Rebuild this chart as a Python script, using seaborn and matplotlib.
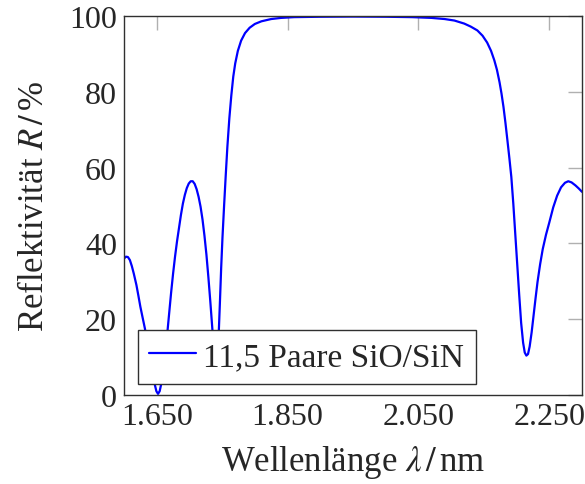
import matplotlib
matplotlib.use("Agg")
import matplotlib.pyplot as plt
import matplotlib.ticker as mticker
import seaborn as sns
import pandas as pd

wavelength_nm = [1600, 1603, 1606, 1609, 1612, 1615, 1619, 1622, 1625, 1628,
                 1632, 1635, 1638, 1641, 1644, 1647, 1649.5, 1652, 1654.5, 1657,
                 1660, 1663, 1666, 1669, 1672, 1675, 1678, 1681, 1684, 1687,
                 1690, 1693, 1696, 1699, 1702, 1705, 1708, 1711, 1714, 1717,
                 1720, 1723, 1726, 1729, 1732, 1735, 1737, 1739, 1740.8, 1742.5,
                 1744.5, 1746.5, 1748.5, 1750.5, 1753, 1755.5, 1758, 1761, 1764, 1767,
                 1770, 1774, 1779, 1785, 1792, 1800, 1810, 1825, 1840, 1860,
                 1900, 1950, 2000, 2040, 2070, 2090, 2105, 2120, 2130, 2140,
                 2148, 2155, 2161, 2166, 2170, 2174, 2177, 2180, 2183, 2186,
                 2189, 2192, 2195, 2198, 2201, 2204, 2207, 2210, 2212.5, 2215,
                 2217.5, 2220, 2223, 2226, 2229, 2232, 2236, 2240, 2245, 2250,
                 2256, 2262, 2268, 2274, 2279, 2284, 2290, 2295, 2300]
reflectivity = [36.0, 36.5, 36.4, 35.6, 34.0, 32.0, 29.0, 26.2, 23.3, 20.8,
                17.5, 14.5, 11.5, 8.5, 5.5, 2.8, 1.0, 0.3, 1.0, 3.0,
                6.5, 11.0, 16.0, 21.5, 27.0, 32.0, 36.5, 40.5, 44.0, 47.5,
                50.5, 52.8, 54.6, 55.8, 56.4, 56.4, 55.7, 54.3, 52.3, 49.7,
                46.3, 42.0, 37.0, 31.0, 24.5, 17.5, 12.5, 8.0, 6.0, 8.5,
                15.0, 24.0, 33.5, 41.5, 50.0, 58.0, 65.5, 73.0, 79.0, 84.0,
                87.5, 90.8, 93.5, 95.5, 96.9, 97.9, 98.6, 99.2, 99.5, 99.7,
                99.8, 99.85, 99.8, 99.7, 99.5, 99.2, 98.8, 98.0, 97.2, 96.2,
                94.8, 93.0, 90.8, 88.3, 85.8, 82.5, 79.5, 76.0, 71.8, 67.2,
                62.5, 57.5, 50.5, 42.5, 34.5, 26.5, 19.0, 13.8, 11.2, 10.4,
                10.8, 12.8, 16.5, 21.0, 25.5, 29.8, 34.5, 38.5, 42.3, 45.5,
                49.5, 52.6, 54.8, 56.0, 56.4, 56.1, 55.3, 54.5, 53.6]
series_label = "11,5 Paare SiO/SiN"
x_ticks = [1650, 1850, 2050, 2250]
y_ticks = [0, 20, 40, 60, 80, 100]

df = pd.DataFrame({"wl": wavelength_nm, "R": reflectivity})

sns.set_style("white")
plt.rcParams["font.family"] = ["Liberation Serif", "DejaVu Serif"]
plt.rcParams["mathtext.fontset"] = "stix"

fig = plt.figure(figsize=(5.85, 4.85), dpi=100)
ax = fig.add_axes([124 / 585, (485 - 396) / 485, 458 / 585, 379 / 485])

sns.lineplot(data=df, x="wl", y="R", ax=ax, color="#0000ff", linewidth=1.6,
             label=series_label, sort=False)

ax.set_xlim(1600, 2300)
ax.set_ylim(0, 100)
ax.set_xticks(x_ticks)
ax.set_yticks(y_ticks)
ax.xaxis.set_major_formatter(mticker.FuncFormatter(lambda v, p: f"{int(v):,}".replace(",", ".")))

ax.tick_params(direction="in", length=10, width=1, color="#b0b0b0",
               top=True, right=True, labelsize=23, pad=5)
for s in ax.spines.values():
    s.set_color("#303030")
    s.set_linewidth(1.0)

ax.set_xlabel(r"Wellenlänge $\lambda\,/\,$nm", fontsize=25, labelpad=9)
ax.set_ylabel(r"Reflektivität $R\,/\,$%", fontsize=25, labelpad=13)

leg = ax.legend(loc="lower left", bbox_to_anchor=(0.03, 0.03), fontsize=24,
                frameon=True, fancybox=False, framealpha=1, edgecolor="#303030",
                handlelength=1.4, handletextpad=0.22, borderpad=0.35,
                borderaxespad=0)
leg.get_frame().set_linewidth(1.0)

fig.savefig("out.png", dpi=100)
